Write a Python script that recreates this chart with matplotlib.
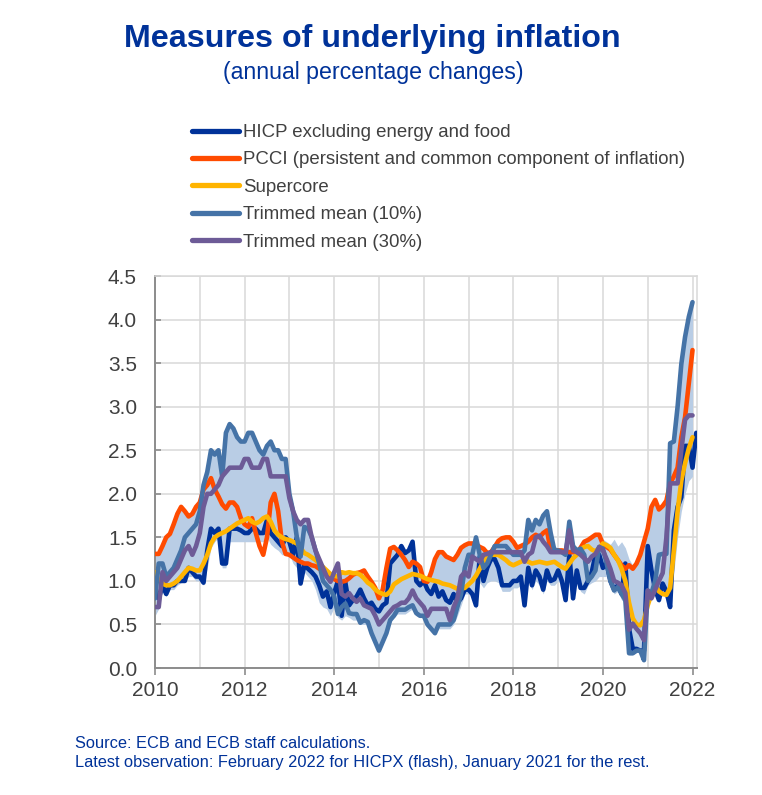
import numpy as np
import matplotlib
matplotlib.use('Agg')
import matplotlib.pyplot as plt

plt.rcParams['font.family'] = ['Liberation Sans', 'DejaVu Sans']

# monthly data, January 2010 onwards
hicpx = [0.90, 0.80, 0.95, 0.85, 0.95, 0.95, 1.00, 1.00, 1.00, 1.15, 1.10, 1.05,
         1.05, 0.98, 1.35, 1.60, 1.55, 1.60, 1.20, 1.20, 1.60, 1.60, 1.60, 1.58,
         1.55, 1.55, 1.60, 1.60, 1.55, 1.55, 1.70, 1.55, 1.50, 1.45, 1.40, 1.50,
         1.45, 1.30, 1.50, 0.97, 1.18, 1.14, 1.10, 1.05, 0.95, 0.82, 0.88, 0.70,
         0.86, 1.00, 0.60, 0.98, 0.72, 0.78, 0.82, 0.90, 0.80, 0.72, 0.75, 0.68,
         0.65, 0.72, 0.75, 1.20, 1.25, 1.30, 1.40, 1.32, 1.35, 1.45, 1.00, 0.95,
         1.00, 0.90, 0.85, 0.95, 0.82, 0.88, 0.78, 0.75, 0.85, 0.75, 0.80, 0.90,
         0.90, 0.85, 0.72, 1.28, 1.00, 1.15, 1.25, 1.25, 1.15, 0.95, 0.95, 0.95,
         1.00, 1.00, 1.05, 0.72, 1.15, 0.95, 1.12, 1.05, 0.90, 1.12, 1.00, 1.02,
         1.12, 1.00, 0.78, 1.30, 0.80, 1.12, 0.92, 0.92, 1.00, 1.10, 1.30, 1.30,
         1.15, 1.20, 1.00, 0.90, 0.95, 0.85, 1.20, 0.45, 0.22, 0.22, 0.20, 0.20,
         1.40, 1.12, 0.90, 0.78, 0.97, 0.88, 0.70, 1.58, 1.85, 1.96, 2.55, 2.55,
         2.30, 2.70]

pcci = [1.31, 1.31, 1.40, 1.50, 1.54, 1.65, 1.77, 1.85, 1.80, 1.74, 1.77, 1.85,
        1.90, 2.05, 2.10, 2.18, 2.05, 1.97, 1.88, 1.83, 1.90, 1.90, 1.85, 1.72,
        1.65, 1.62, 1.72, 1.55, 1.40, 1.30, 1.50, 1.90, 2.00, 1.80, 1.45, 1.31,
        1.30, 1.27, 1.24, 1.22, 1.20, 1.20, 1.18, 1.17, 1.14, 1.12, 1.07, 1.05,
        1.02, 1.00, 0.99, 1.00, 1.03, 1.07, 1.09, 1.10, 1.12, 1.05, 0.99, 0.92,
        0.80, 0.90, 1.15, 1.37, 1.39, 1.35, 1.30, 1.24, 1.16, 1.22, 1.20, 1.16,
        1.00, 0.99, 1.10, 1.25, 1.33, 1.33, 1.28, 1.26, 1.24, 1.30, 1.38, 1.41,
        1.43, 1.43, 1.42, 1.39, 1.37, 1.32, 1.33, 1.39, 1.46, 1.49, 1.50, 1.50,
        1.45, 1.38, 1.40, 1.42, 1.45, 1.50, 1.53, 1.50, 1.55, 1.58, 1.35, 1.35,
        1.35, 1.35, 1.34, 1.33, 1.33, 1.33, 1.38, 1.45, 1.47, 1.50, 1.53, 1.53,
        1.42, 1.39, 1.36, 1.30, 1.24, 1.18, 1.14, 1.18, 1.14, 1.20, 1.30, 1.45,
        1.60, 1.85, 1.93, 1.82, 1.86, 1.92, 2.12, 2.20, 2.30, 2.65, 2.88, 3.26,
        3.65]

supercore = [1.10, 1.00, 0.97, 0.95, 0.95, 0.97, 1.00, 1.05, 1.10, 1.15, 1.14, 1.12,
             1.12, 1.20, 1.30, 1.43, 1.50, 1.53, 1.55, 1.57, 1.60, 1.63, 1.66, 1.68,
             1.70, 1.72, 1.68, 1.66, 1.68, 1.72, 1.74, 1.68, 1.58, 1.53, 1.50, 1.48,
             1.47, 1.45, 1.43, 1.38, 1.32, 1.30, 1.27, 1.24, 1.20, 1.16, 1.12, 1.08,
             1.06, 1.05, 1.10, 1.09, 1.10, 1.09, 1.09, 1.07, 1.03, 0.98, 0.95, 0.90,
             0.87, 0.85, 0.84, 0.88, 0.96, 0.99, 1.02, 1.04, 1.06, 1.08, 1.07, 1.06,
             1.04, 1.02, 1.01, 1.00, 0.99, 0.97, 0.96, 0.95, 0.93, 0.91, 0.91, 0.92,
             0.96, 1.00, 1.06, 1.14, 1.22, 1.28, 1.30, 1.30, 1.30, 1.27, 1.24, 1.20,
             1.18, 1.20, 1.22, 1.24, 1.22, 1.20, 1.21, 1.22, 1.21, 1.20, 1.21, 1.22,
             1.19, 1.16, 1.14, 1.20, 1.26, 1.30, 1.36, 1.39, 1.40, 1.36, 1.34, 1.38,
             1.43, 1.41, 1.38, 1.30, 1.24, 1.14, 1.00, 0.75, 0.57, 0.50, 0.49, 0.55,
             0.72, 0.85, 0.95, 0.88, 0.85, 0.84, 0.92, 1.35, 1.80, 2.15, 2.35, 2.52,
             2.65]

trimmed_10 = [0.80, 1.20, 1.20, 1.05, 1.10, 1.15, 1.25, 1.35, 1.50, 1.55, 1.60, 1.65,
              1.80, 2.10, 2.25, 2.50, 2.45, 2.50, 2.20, 2.70, 2.80, 2.75, 2.65, 2.60,
              2.60, 2.70, 2.70, 2.60, 2.50, 2.45, 2.55, 2.60, 2.50, 2.50, 2.40, 2.40,
              2.00, 1.80, 1.50, 1.28, 1.62, 1.60, 1.50, 1.35, 1.20, 1.00, 0.95, 0.90,
              0.82, 0.62, 0.70, 0.74, 0.63, 0.62, 0.62, 0.52, 0.55, 0.53, 0.40, 0.30,
              0.20, 0.30, 0.40, 0.55, 0.60, 0.67, 0.67, 0.67, 0.70, 0.72, 0.63, 0.60,
              0.60, 0.50, 0.45, 0.40, 0.50, 0.50, 0.50, 0.50, 0.55, 0.70, 0.85, 1.15,
              1.30, 1.30, 1.50, 1.30, 1.15, 1.20, 1.30, 1.40, 1.40, 1.40, 1.40, 1.35,
              1.30, 1.30, 1.30, 1.35, 1.70, 1.58, 1.70, 1.65, 1.75, 1.80, 1.55, 1.35,
              1.35, 1.33, 1.30, 1.68, 1.40, 1.35, 1.37, 1.30, 1.00, 1.05, 1.12, 1.39,
              1.37, 1.20, 1.00, 0.89, 0.93, 0.85, 0.78, 0.17, 0.17, 0.20, 0.20, 0.09,
              0.89, 0.86, 1.00, 1.30, 1.31, 1.31, 2.58, 2.60, 3.00, 3.49, 3.80, 4.03,
              4.20]

trimmed_30 = [0.70, 0.70, 1.10, 1.00, 1.05, 1.10, 1.15, 1.25, 1.35, 1.40, 1.30, 1.40,
              1.55, 1.85, 2.00, 2.00, 2.05, 2.10, 2.20, 2.25, 2.30, 2.30, 2.30, 2.30,
              2.40, 2.40, 2.30, 2.30, 2.30, 2.40, 2.40, 2.20, 2.20, 2.20, 2.20, 2.20,
              1.95, 1.80, 1.70, 1.65, 1.70, 1.70, 1.50, 1.35, 1.25, 1.15, 1.05, 0.99,
              1.10, 1.20, 0.85, 0.82, 0.86, 0.80, 0.76, 0.80, 0.72, 0.70, 0.68, 0.60,
              0.50, 0.55, 0.60, 0.65, 0.70, 0.72, 0.75, 0.75, 0.80, 0.89, 0.80, 0.75,
              0.70, 0.60, 0.68, 0.68, 0.68, 0.68, 0.68, 0.55, 0.70, 0.80, 1.05, 1.10,
              1.05, 1.28, 1.25, 1.22, 1.30, 1.31, 1.33, 1.33, 1.33, 1.33, 1.33, 1.33,
              1.33, 1.33, 1.33, 1.22, 1.30, 1.33, 1.50, 1.52, 1.45, 1.40, 1.33, 1.33,
              1.33, 1.33, 1.33, 1.58, 1.35, 1.33, 1.30, 1.26, 1.22, 1.28, 1.31, 1.39,
              1.35, 1.25, 1.14, 1.00, 0.98, 0.95, 0.86, 0.44, 0.51, 0.45, 0.40, 0.32,
              0.89, 0.80, 0.90, 1.00, 1.09, 1.50, 2.12, 2.12, 2.12, 2.50, 2.85, 2.90,
              2.90]

# range of measures (shaded area)
range_low = [0.60, 0.68, 0.88, 0.82, 0.90, 0.90, 0.95, 0.98, 1.00, 1.05, 1.05, 1.00,
             1.00, 0.95, 1.15, 1.38, 1.45, 1.50, 1.15, 1.15, 1.45, 1.45, 1.45, 1.45,
             1.45, 1.45, 1.45, 1.45, 1.45, 1.45, 1.50, 1.42, 1.38, 1.35, 1.30, 1.30,
             1.30, 1.20, 1.15, 0.95, 1.10, 1.05, 1.00, 0.90, 0.75, 0.70, 0.68, 0.60,
             0.70, 0.58, 0.55, 0.60, 0.58, 0.55, 0.55, 0.50, 0.50, 0.50, 0.38, 0.28,
             0.18, 0.28, 0.38, 0.52, 0.58, 0.62, 0.62, 0.62, 0.65, 0.68, 0.60, 0.58,
             0.58, 0.48, 0.42, 0.38, 0.45, 0.45, 0.45, 0.45, 0.50, 0.60, 0.72, 0.85,
             0.85, 0.82, 0.68, 0.98, 0.92, 0.98, 1.00, 1.00, 0.98, 0.88, 0.88, 0.88,
             0.92, 0.92, 0.95, 0.68, 1.00, 0.90, 1.00, 0.95, 0.85, 1.00, 0.95, 0.95,
             1.00, 0.95, 0.75, 1.12, 0.78, 1.05, 0.88, 0.85, 0.95, 0.98, 1.00, 1.05,
             1.05, 1.05, 0.95, 0.85, 0.88, 0.78, 0.75, 0.15, 0.15, 0.18, 0.18, 0.08,
             0.85, 0.80, 0.85, 0.75, 0.85, 0.84, 0.70, 1.10, 1.50, 1.80, 2.00, 2.15,
             2.20]

range_high = [1.31, 1.31, 1.40, 1.50, 1.54, 1.65, 1.77, 1.85, 1.80, 1.74, 1.77, 1.85,
              1.90, 2.10, 2.25, 2.50, 2.45, 2.50, 2.20, 2.70, 2.80, 2.75, 2.65, 2.60,
              2.60, 2.70, 2.70, 2.60, 2.50, 2.45, 2.55, 2.60, 2.50, 2.50, 2.40, 2.40,
              2.00, 1.80, 1.70, 1.65, 1.70, 1.70, 1.50, 1.35, 1.25, 1.16, 1.12, 1.08,
              1.10, 1.20, 1.10, 1.09, 1.10, 1.09, 1.09, 1.10, 1.12, 1.05, 0.99, 0.92,
              0.87, 0.90, 1.15, 1.37, 1.39, 1.35, 1.40, 1.32, 1.35, 1.45, 1.20, 1.16,
              1.04, 1.02, 1.10, 1.25, 1.33, 1.33, 1.28, 1.26, 1.24, 1.30, 1.38, 1.41,
              1.43, 1.43, 1.50, 1.39, 1.37, 1.32, 1.33, 1.40, 1.46, 1.49, 1.50, 1.50,
              1.45, 1.38, 1.40, 1.42, 1.70, 1.58, 1.70, 1.65, 1.75, 1.80, 1.55, 1.40,
              1.38, 1.36, 1.35, 1.68, 1.42, 1.36, 1.38, 1.45, 1.48, 1.50, 1.53, 1.53,
              1.48, 1.45, 1.42, 1.48, 1.40, 1.45, 1.38, 1.25, 1.18, 1.20, 1.30, 1.45,
              1.60, 1.85, 1.93, 1.82, 1.86, 1.92, 2.58, 2.60, 3.00, 3.49, 3.80, 4.03,
              4.20]

labels = ['HICP excluding energy and food',
          'PCCI (persistent and common component of inflation)',
          'Supercore',
          'Trimmed mean (10%)',
          'Trimmed mean (30%)']
colours = ['#003299', '#ff4b00', '#ffb400', '#4573a7', '#6d5b97']

x_long = 2010 + np.arange(len(hicpx)) / 12
x = 2010 + np.arange(len(pcci)) / 12

ecb_blue = '#003299'
text_grey = '#404040'
grid_grey = '#d9d9d9'

fig = plt.figure(figsize=(7.62, 7.95), dpi=100)
ax = fig.add_axes([0.2034, 0.1597, 0.7113, 0.4931])

ax.fill_between(x, range_low, range_high, color='#b9cde5', lw=0, zorder=1)

series = [(x_long, hicpx), (x, pcci), (x, supercore), (x, trimmed_10), (x, trimmed_30)]
handles = []
for (xs, ys), lab, col in zip(series, labels, colours):
    line, = ax.plot(xs, ys, color=col, lw=3.3, label=lab, zorder=3,
                    solid_joinstyle='round', solid_capstyle='round')
    handles.append(line)

ax.set_xlim(2010, 2022.1)
ax.set_ylim(0, 4.5)
ax.set_xticks(np.arange(2010, 2023, 2))
ax.set_xticks(np.arange(2010, 2023, 1), minor=True)
ax.set_yticks(np.arange(0, 4.51, 0.5))
ax.yaxis.set_major_formatter(plt.FuncFormatter(lambda v, p: '{:.1f}'.format(v)))

ax.grid(True, which='both', axis='x', color=grid_grey, lw=1.1, zorder=0)
ax.grid(True, which='major', axis='y', color=grid_grey, lw=1.1, zorder=0)
ax.set_axisbelow(True)

for side in ['top', 'right']:
    ax.spines[side].set_color(grid_grey)
    ax.spines[side].set_linewidth(1.1)
for side in ['left', 'bottom']:
    ax.spines[side].set_color('#8c8c8c')
    ax.spines[side].set_linewidth(1.4)

ax.tick_params(axis='x', which='major', direction='out', length=5, width=1.2,
               color='#8c8c8c', labelsize=15, labelcolor=text_grey, pad=4)
ax.tick_params(axis='x', which='minor', length=0)
ax.tick_params(axis='y', direction='in', length=4, width=1.2, color='#8c8c8c',
               labelsize=15, labelcolor=text_grey, pad=13)

fig.text(0.489, 1 - 39 / 795, 'Measures of underlying inflation', ha='center', va='center',
         fontsize=23.2, fontweight='bold', color=ecb_blue)
fig.text(0.490, 1 - 73 / 795, '(annual percentage changes)', ha='center', va='center',
         fontsize=16.7, color=ecb_blue)

leg = fig.legend(handles=handles, labels=labels, loc='upper left',
                 bbox_to_anchor=(192 / 762, 1 - 124 / 795), frameon=False,
                 fontsize=13.4, handlelength=2.5, handletextpad=0.25,
                 labelspacing=0.56, borderpad=0, borderaxespad=0)
for t in leg.get_texts():
    t.set_color(text_grey)
for h in leg.get_lines():
    h.set_linewidth(3.8)

fig.text(75 / 762, 1 - 743 / 795, 'Source: ECB and ECB staff calculations.',
         ha='left', va='center', fontsize=11.8, color=ecb_blue)
fig.text(75 / 762, 1 - 762 / 795,
         'Latest observation: February 2022 for HICPX (flash), January 2021 for the rest.',
         ha='left', va='center', fontsize=11.8, color=ecb_blue)

fig.savefig('out.png', dpi=100)
